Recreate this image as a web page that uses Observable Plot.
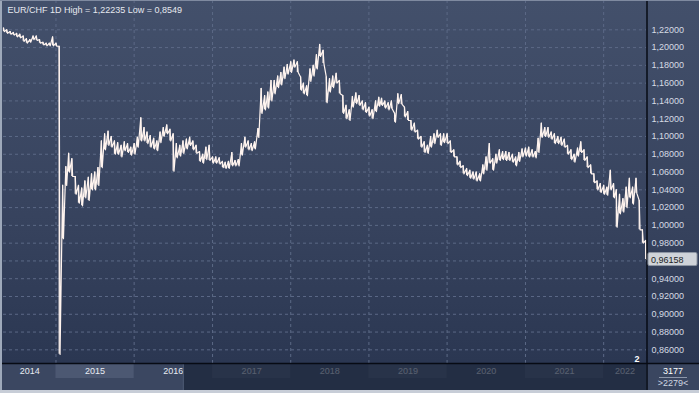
<!DOCTYPE html>
<html><head><meta charset="utf-8">
<script src="https://cdn.jsdelivr.net/npm/d3@7"></script>
<script src="https://cdn.jsdelivr.net/npm/@observablehq/plot@0.6"></script>
<style>
html,body{margin:0;padding:0;background:#c5cbd5;overflow:hidden;}
#chart{width:699px;height:393px;overflow:hidden;}
</style></head><body><div id="chart"></div>
<script>
// EUR/CHF, semi-monthly samples (1st and 16th of each month) starting May 2014
const startYear = 2014, startMonth = 4; // May (0-based)
const highs = [
1.222,1.220,1.218,1.217,1.216,1.215,1.213,1.210,1.209,1.213,1.213,1.209,1.206,1.205,1.205,1.212,1.205,1.2015,1.045,1.066,
1.081,1.075,1.055,1.045,1.042,1.050,1.054,1.058,1.060,1.065,1.095,1.103,1.106,1.100,1.095,1.093,1.090,1.094,1.092,1.088,
1.092,1.099,1.121,1.110,1.105,1.101,1.098,1.095,1.105,1.110,1.113,1.108,1.103,1.092,1.090,1.095,1.097,1.099,1.095,1.090,
1.083,1.080,1.088,1.090,1.077,1.077,1.076,1.072,1.071,1.072,1.082,1.073,1.074,1.092,1.099,1.095,1.092,1.094,1.109,1.154,
1.146,1.150,1.163,1.163,1.168,1.172,1.178,1.181,1.184,1.186,1.184,1.167,1.160,1.157,1.176,1.180,1.192,1.2035,1.197,1.167,
1.165,1.168,1.171,1.163,1.146,1.135,1.130,1.145,1.149,1.146,1.140,1.138,1.133,1.130,1.140,1.144,1.143,1.140,1.138,1.140,
1.126,1.148,1.147,1.133,1.128,1.118,1.115,1.107,1.100,1.094,1.090,1.100,1.103,1.107,1.103,1.103,1.103,1.095,1.085,1.077,
1.072,1.067,1.064,1.062,1.060,1.060,1.058,1.068,1.077,1.092,1.075,1.080,1.085,1.083,1.083,1.082,1.080,1.077,1.082,1.086,
1.087,1.088,1.085,1.083,1.098,1.115,1.110,1.110,1.105,1.103,1.100,1.099,1.097,1.090,1.085,1.080,1.087,1.094,1.085,1.077,
1.068,1.058,1.050,1.047,1.045,1.043,1.062,1.047,1.040,1.035,1.030,1.043,1.053,1.043,1.053,1.028,0.995,0.983];
const lows = [
1.218,1.216,1.215,1.214,1.212,1.211,1.207,1.205,1.206,1.209,1.208,1.205,1.203,1.202,1.202,1.202,1.2015,0.8549,0.985,1.045,
1.060,1.055,1.035,1.025,1.022,1.031,1.028,1.040,1.040,1.045,1.065,1.085,1.090,1.088,1.080,1.080,1.077,1.084,1.082,1.079,
1.080,1.088,1.095,1.095,1.092,1.088,1.086,1.084,1.093,1.100,1.103,1.095,1.061,1.076,1.078,1.081,1.086,1.090,1.085,1.081,
1.072,1.070,1.074,1.073,1.070,1.070,1.069,1.065,1.064,1.064,1.067,1.067,1.067,1.079,1.088,1.085,1.084,1.086,1.099,1.126,
1.130,1.132,1.140,1.148,1.155,1.158,1.165,1.170,1.172,1.178,1.172,1.152,1.148,1.146,1.162,1.168,1.176,1.190,1.182,1.138,
1.150,1.155,1.160,1.148,1.126,1.120,1.118,1.133,1.137,1.135,1.130,1.127,1.123,1.120,1.128,1.134,1.135,1.132,1.130,1.131,
1.116,1.137,1.136,1.122,1.118,1.107,1.105,1.097,1.088,1.082,1.081,1.088,1.092,1.099,1.090,1.093,1.092,1.082,1.077,1.068,
1.065,1.058,1.056,1.053,1.052,1.050,1.050,1.058,1.062,1.070,1.062,1.070,1.073,1.074,1.073,1.073,1.071,1.067,1.072,1.077,
1.078,1.077,1.077,1.076,1.082,1.099,1.100,1.099,1.097,1.092,1.092,1.090,1.088,1.080,1.074,1.071,1.078,1.082,1.073,1.065,
1.058,1.048,1.040,1.037,1.035,1.034,1.040,1.031,0.998,1.013,1.015,1.020,1.031,1.024,1.036,0.995,0.980,0.96158];
const yTicks = [0.86,0.88,0.90,0.92,0.94,0.96,0.98,1.00,1.02,1.04,1.06,1.08,1.10,1.12,1.14,1.16,1.18,1.20,1.22];
const years = [2014,2015,2016,2017,2018,2019,2020,2021,2022];
const title = "EUR/CHF 1D High = 1,22235 Low = 0,8549";
const lastPrice = 0.96158;
const navigatorEnd = "2016-08-20";
const markerLabel = "2";
const counterTop = "3177", counterBottom = ">2279<";

const DAY = 864e5;
const data = highs.map((h, k) => ({
  date: new Date(Date.UTC(startYear, startMonth + Math.floor(k / 2), k % 2 ? 16 : 1)),
  hi: h, lo: lows[k]
}));
// trace each period's range (high, then low a few days later) so the line keeps its daily texture
const trace = data.flatMap(d => [
  {date: d.date, v: d.hi},
  {date: new Date(+d.date + 4 * DAY), v: d.lo}
]);
const d0 = data[0].date, d1 = trace[trace.length - 1].date;
const yearStarts = years.slice(1).map(y => new Date(Date.UTC(y, 0, 1)));
const yearLabels = years.map(y => {
  const a = Math.max(+d0, Date.UTC(y, 0, 1)), b = Math.min(+d1, Date.UTC(y + 1, 0, 1));
  return {year: String(y), date: new Date((a + b) / 2)};
});
const fmt = d => d.toFixed(5).replace(".", ",");
const tagHalf = 0.009; // axis labels hidden behind the last-price tag
const axisTicks = yTicks.filter(t => Math.abs(t - lastPrice) > tagHalf);
const W = 699, H = 393;
const lineColor = "#fff4ef";

const chart = Plot.plot({
  width: W, height: H,
  marginLeft: 3, marginRight: 53, marginTop: 0, marginBottom: 30,
  style: {background: "linear-gradient(#43506b 0%, #37435e 55%, #2b3752 92%)", fontFamily: "'Liberation Sans', Arial, sans-serif", fontSize: "9px", color: "#d6dbe4"},
  x: {type: "utc", domain: [d0, d1], axis: null, label: null},
  y: {domain: [0.84463, 1.25296], axis: null, label: null},
  marks: [
    Plot.gridY(yTicks, {stroke: "#5c6986", strokeOpacity: 1, strokeDasharray: "3,3"}),
    Plot.gridX(yearStarts, {stroke: "#5c6986", strokeOpacity: 1, strokeDasharray: "3,3"}),
    Plot.axisY(axisTicks, {anchor: "right", label: null, tickSize: 0, tickPadding: 5, tickFormat: fmt, fill: "#d6dbe4", fontSize: 9}),
    Plot.ruleX(data, {x: "date", y1: "lo", y2: "hi", stroke: lineColor, strokeWidth: 1.2}),
    Plot.line(trace, {x: "date", y: "v", stroke: lineColor, strokeWidth: 1.2}),
    Plot.text([title], {frameAnchor: "top-left", text: d => d, dx: 4, dy: 6, lineAnchor: "top", textAnchor: "start", fill: "#e6e9ef", fontSize: 9}),
    Plot.text([markerLabel], {frameAnchor: "bottom-right", text: d => d, dx: -7, dy: -2, lineAnchor: "bottom", textAnchor: "end", fill: "#ffffff", fontWeight: "bold", fontSize: 9}),
    Plot.text(yearLabels, {x: "date", text: "year", frameAnchor: "bottom", dy: 8, lineAnchor: "middle", fill: "#e8ecf2", fontSize: 9})
  ]
});
document.getElementById("chart").appendChild(chart);

// decorations placed with the chart's own scales
const svg = d3.select(chart);
const xs = chart.scale("x"), ys = chart.scale("y");
const frameBottom = H - 30, frameRight = W - 53;
const strip = svg.insert("g", ":first-child");
strip.append("rect").attr("x", 0).attr("y", frameBottom).attr("width", W).attr("height", H - frameBottom).attr("fill", "#3b4761");
years.forEach(y => {
  if (y % 2 === 1) {
    const a = Math.max(xs.apply(new Date(Date.UTC(y, 0, 1))), 3);
    const b = Math.min(xs.apply(new Date(Date.UTC(y + 1, 0, 1))), frameRight);
    strip.append("rect").attr("x", a).attr("y", frameBottom + 1).attr("width", b - a).attr("height", 14).attr("fill", "#4c5872");
  }
});
const over = svg.append("g").attr("text-anchor", "start");
const nx = xs.apply(new Date(navigatorEnd));
over.append("rect").attr("x", nx).attr("y", frameBottom + 1).attr("width", frameRight - nx).attr("height", 26).attr("fill", "#1a2337").attr("fill-opacity", 0.7);
over.append("line").attr("x1", nx).attr("x2", nx).attr("y1", frameBottom + 1).attr("y2", H - 3).attr("stroke", "#4f5b74");
// right-bottom counter box
over.append("rect").attr("x", frameRight + 1).attr("y", frameBottom + 1).attr("width", W - frameRight - 1).attr("height", 26).attr("fill", "#3a4660");
over.append("text").attr("x", 673).attr("y", frameBottom + 11).attr("text-anchor", "middle").attr("fill", "#ffffff").attr("font-size", 9).text(counterTop);
over.append("line").attr("x1", 659).attr("x2", 687).attr("y1", frameBottom + 14.5).attr("y2", frameBottom + 14.5).attr("stroke", "#8d97aa");
over.append("text").attr("x", 673).attr("y", frameBottom + 23).attr("text-anchor", "middle").attr("fill", "#d0d6e0").attr("font-size", 9).text(counterBottom);
// separators
over.append("line").attr("x1", 0).attr("x2", W).attr("y1", frameBottom + 0.5).attr("y2", frameBottom + 0.5).attr("stroke", "#070b14").attr("stroke-width", 1.5);
over.append("line").attr("x1", frameRight + 1).attr("x2", frameRight + 1).attr("y1", 0).attr("y2", H - 3).attr("stroke", "#070b14").attr("stroke-width", 1.5);
// borders
over.append("rect").attr("x", 0).attr("y", 0).attr("width", 2).attr("height", H).attr("fill", "#9ea9ba");
over.append("rect").attr("x", 0).attr("y", 0).attr("width", W).attr("height", 1).attr("fill", "#7f8aa0");
over.append("rect").attr("x", 0).attr("y", H - 3).attr("width", W).attr("height", 3).attr("fill", "#c7cdd7");
// last price tag
const py = ys.apply(lastPrice);
over.append("rect").attr("x", frameRight + 2).attr("y", py - 6.5).attr("width", 49).attr("height", 13).attr("rx", 1.5).attr("fill", "#cfd3d9").attr("stroke", "#8e96a4");
over.append("text").attr("x", frameRight + 5).attr("y", py + 3.5).attr("text-anchor", "start").attr("fill", "#1c1f26").attr("font-size", 9).text(fmt(lastPrice));
</script></body></html>
